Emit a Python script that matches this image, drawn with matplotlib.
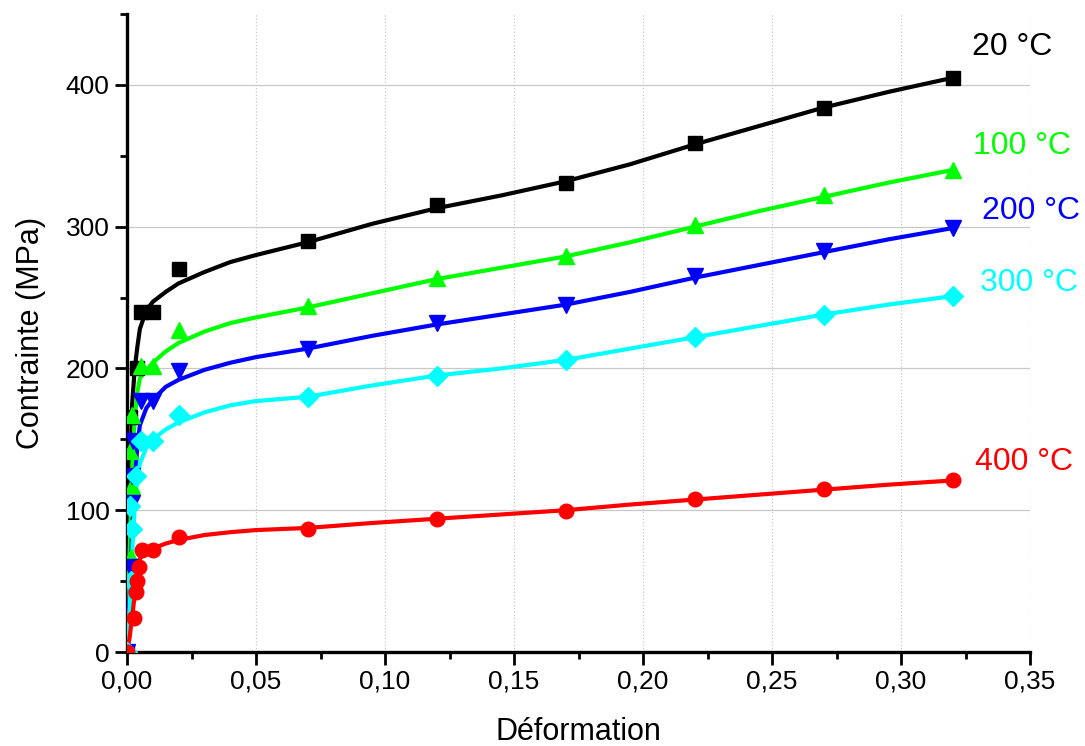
import matplotlib
matplotlib.use("Agg")
import matplotlib.pyplot as plt
from matplotlib.ticker import MultipleLocator, FuncFormatter

plt.rcParams['font.family'] = ['Liberation Sans', 'DejaVu Sans']

# measured points (strain, stress MPa)
x20 = [0, 0.0012, 0.0037, 0.0055, 0.01, 0.02, 0.07, 0.12, 0.17, 0.22, 0.27, 0.32]
y20 = [0, 166, 200, 240, 240, 270, 290, 315, 331, 359, 384, 405]

x100 = [0, 0.0015, 0.0018, 0.0012, 0.0018, 0.0055, 0.01, 0.02, 0.07, 0.12, 0.17, 0.22, 0.27, 0.32]
y100 = [0, 67, 117, 142, 167, 202, 202, 227, 244, 264, 279, 301, 322, 340]

x200 = [0, 0.0012, 0.0018, 0.0018, 0.0025, 0.0055, 0.01, 0.02, 0.07, 0.12, 0.17, 0.22, 0.27, 0.32]
y200 = [0, 60, 105, 124, 149, 177, 177, 198, 214, 232, 245, 265, 283, 299]

x300 = [0, 0.0015, 0.002, 0.0012, 0.0035, 0.0055, 0.01, 0.02, 0.07, 0.12, 0.17, 0.22, 0.27, 0.32]
y300 = [0, 50, 87, 103, 124, 149, 149, 167, 180, 195, 206, 222, 238, 251]

x400 = [0, 0.0028, 0.0035, 0.004, 0.0047, 0.0057, 0.01, 0.02, 0.07, 0.12, 0.17, 0.22, 0.27, 0.32]
y400 = [0, 24, 42, 50, 60, 72, 72, 81, 87, 94, 99.5, 108, 115, 121]

# fitted curves
xfit = [0, 0.001, 0.002, 0.003, 0.004, 0.005, 0.0075, 0.01, 0.015, 0.02, 0.03, 0.04,
        0.05, 0.07, 0.095, 0.12, 0.145, 0.17, 0.195, 0.22, 0.245, 0.27, 0.295, 0.32]
f20 = [0, 110, 175, 200, 215, 228, 241, 247, 254, 260, 268, 275,
       280, 289, 302, 313, 322, 332, 344, 358, 371, 384, 395, 405]
f100 = [0, 70, 130, 165, 183, 193, 199, 204, 212, 218, 226, 232,
        236, 243, 253, 263, 271, 279, 289, 300, 311, 321, 331, 340]
f200 = [0, 40, 85, 120, 145, 160, 172, 178, 187, 192, 199, 204,
        208, 214, 223, 231, 238, 245, 254, 264, 273, 282, 291, 299]
f300 = [0, 30, 70, 102, 122, 133, 144, 150, 157, 162, 169, 174,
        177, 180, 188, 195, 200, 206, 214, 222, 230, 238, 245, 251]
f400 = [0, 10, 25, 40, 55, 66, 71, 73, 76.5, 79, 82.5, 84.5,
        86, 87.5, 91, 94, 97, 100, 104, 107.5, 111, 114.5, 118, 121]

labels = ["20 °C", "100 °C", "200 °C", "300 °C", "400 °C"]
label_x = [0.3274, 0.3279, 0.3313, 0.3306, 0.3287]
label_y = [426.5, 357, 311, 260, 134]

colors = ["#000000", "#00ff00", "#0000ff", "#00ffff", "#ff0000"]
markers = ["s", "^", "v", "D", "o"]
msizes = [10, 12, 12, 10, 10.5]

fig = plt.figure(figsize=(10.85, 7.46), dpi=100)
ax = fig.add_axes([127 / 1085, 1 - 652 / 746, (1030 - 127) / 1085, (652 - 14) / 746])

xs = [x20, x100, x200, x300, x400]
ys = [y20, y100, y200, y300, y400]
fits = [f20, f100, f200, f300, f400]

for i in range(5):
    ax.plot(xfit, fits[i], '-', color=colors[i], lw=3, zorder=3 + i * 0.1)
    ax.plot(xs[i], ys[i], linestyle='none', marker=markers[i], color=colors[i],
            markersize=msizes[i], zorder=4 + i * 0.1)
    ax.text(label_x[i], label_y[i], labels[i], color=colors[i], fontsize=23,
            ha='left', va='center', clip_on=False)

ax.set_xlim(0, 0.35)
ax.set_ylim(0, 450)
ax.xaxis.set_major_locator(MultipleLocator(0.05))
ax.xaxis.set_minor_locator(MultipleLocator(0.025))
ax.yaxis.set_major_locator(MultipleLocator(100))
ax.yaxis.set_minor_locator(MultipleLocator(50))
ax.xaxis.set_major_formatter(FuncFormatter(lambda v, p: ("%.2f" % v).replace('.', ',')))

ax.spines['top'].set_visible(False)
ax.spines['right'].set_visible(False)
ax.spines['left'].set_linewidth(2.4)
ax.spines['bottom'].set_linewidth(2.4)
ax.tick_params(which='major', direction='out', length=9, width=2, labelsize=19)
ax.tick_params(which='minor', direction='out', length=5, width=2)

# light grid: solid horizontal, dotted vertical
ax.grid(axis='y', which='major', color='#c8c8c8', lw=0.9, ls='-')
ax.grid(axis='x', which='major', color='#c8c8c8', lw=0.9, ls=':')
ax.set_axisbelow(True)

ax.set_xlabel("Déformation", fontsize=22, labelpad=17)
ax.set_ylabel("Contrainte (MPa)", fontsize=22, labelpad=14)

fig.savefig("out.png", dpi=100)
